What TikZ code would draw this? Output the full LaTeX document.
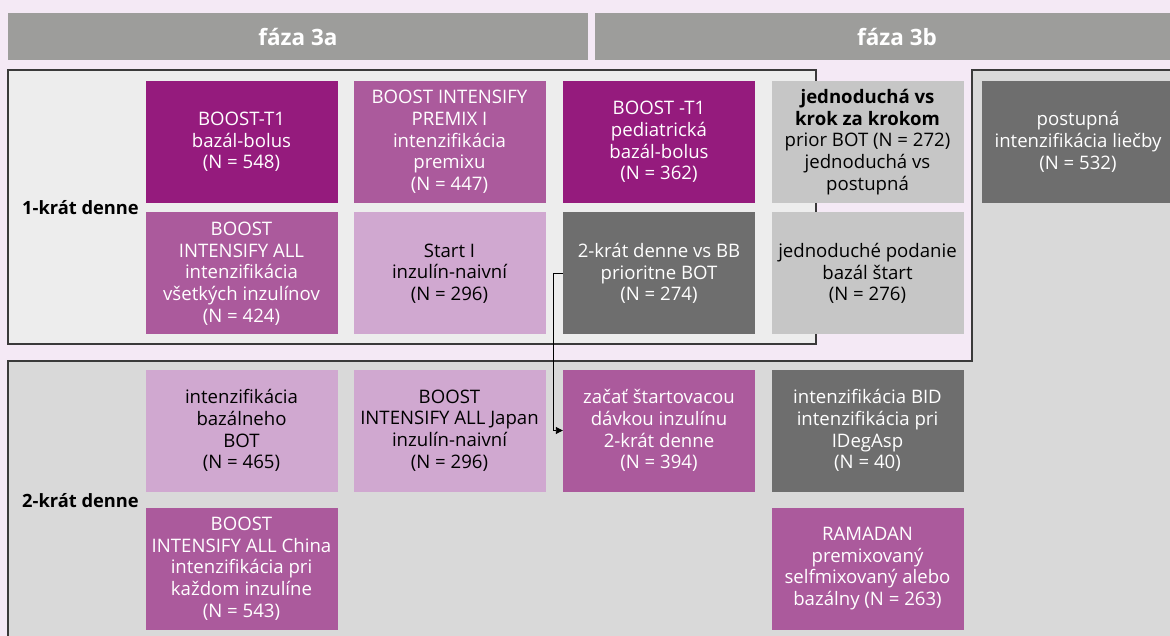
\documentclass[tikz,border=0pt]{standalone}
\usepackage{fontspec}
\setmainfont{Open Sans}
\usepackage{tikz}
\usetikzlibrary{arrows.meta,positioning,calc}
\definecolor{cBg}{HTML}{F4E9F5}
\definecolor{cHead}{HTML}{9D9D9B}
\definecolor{cOnce}{HTML}{EDEDED}
\definecolor{cTwice}{HTML}{D9D9D9}
\definecolor{cFrame}{HTML}{3A3A3A}
\definecolor{cPurD}{HTML}{951B7D}
\definecolor{cPurM}{HTML}{AB5A9C}
\definecolor{cPurL}{HTML}{D0A8D0}
\definecolor{cGreyD}{HTML}{6E6E6E}
\definecolor{cGreyL}{HTML}{C6C6C6}
\tikzset{
  blk/.style={minimum width=192pt, minimum height=122pt, inner sep=2pt,
              align=center, font=\fontsize{18.6}{21.7}\selectfont},
  pdblk/.style={blk, fill=cPurD, text=white},
  pmblk/.style={blk, fill=cPurM, text=white},
  plblk/.style={blk, fill=cPurL, text=black},
  gdblk/.style={blk, fill=cGreyD, text=white},
  glblk/.style={blk, fill=cGreyL, text=black},
  phase/.style={fill=cHead, text=white, minimum height=47pt, inner sep=0pt,
                font=\fontsize{22.5}{26}\selectfont\bfseries},
  rowlbl/.style={font=\fontsize{18.3}{20}\selectfont\bfseries, anchor=east, inner sep=0pt},
  frm/.style={cFrame, line width=1.3pt},
  arr/.style={-{Triangle[length=7pt,width=7pt]}, line width=0.9pt, black}
}

\begin{document}
\begin{tikzpicture}[x=1pt, y=-1pt]
\clip (0,0) rectangle (1170,636);
\fill[cBg] (0,0) rectangle (1170,636);
% phase headers
\node[phase, minimum width=580pt] (p3a) at (298,36.5) {fáza 3a};
\node[phase, minimum width=604pt] (p3b) at (897,36.5) {fáza 3b};
% frames
\fill[cTwice] (8,361) -- (972,361) -- (972,70) -- (1180,70) -- (1180,645) -- (8,645) -- cycle;
\draw[frm] (8,645) -- (8,361) -- (972,361) -- (972,70) -- (1180,70);
\draw[frm, fill=cOnce] (8,70) rectangle (816,344);
\node[rowlbl] (once) at (139,208) {1-krát denne};
\node[rowlbl] (twice) at (139,501) {2-krát denne};
% 1-krat denne, row 1
\node[pdblk] (b11) at (241.5,142) {BOOST-T1\\bazál-bolus\\(N = 548)};
\node[pmblk] (b12) at (449.5,142) {BOOST INTENSIFY\\PREMIX I\\intenzifikácia\\premixu\\(N = 447)};
\node[pdblk] (b13) at (659,142) {BOOST -T1\\pediatrická\\bazál-bolus\\(N = 362)};
\node[glblk] (b14) at (867.5,142) {\textbf{jednoduchá vs}\\\textbf{krok za krokom}\\prior BOT (N = 272)\\jednoduchá vs\\postupná};
\node[gdblk] (b15) at (1078,142) {postupná\\intenzifikácia liečby\\(N = 532)};
% 1-krat denne, row 2
\node[pmblk] (b21) at (241.5,273.5) {BOOST\\INTENSIFY ALL\\intenzifikácia\\všetkých inzulínov\\(N = 424)};
\node[plblk] (b22) at (449.5,273.5) {Start I\\inzulín-naivní\\(N = 296)};
\node[gdblk] (b23) at (659,273.5) {2-krát denne vs BB\\prioritne BOT\\(N = 274)};
\node[glblk] (b24) at (867.5,273.5) {jednoduché podanie\\bazál štart\\(N = 276)};
% 2-krat denne, row 3
\node[plblk] (b31) at (241.5,430.5) {intenzifikácia\\bazálneho\\BOT\\(N = 465)};
\node[plblk] (b32) at (449.5,430.5) {BOOST\\INTENSIFY ALL Japan\\inzulín-naivní\\(N = 296)};
\node[pmblk] (b33) at (659,430.5) {začať štartovacou\\dávkou inzulínu\\2-krát denne\\(N = 394)};
\node[gdblk] (b34) at (867.5,430.5) {intenzifikácia BID\\intenzifikácia pri\\IDegAsp\\(N = 40)};
% 2-krat denne, row 4
\node[pmblk] (b41) at (241.5,568.5) {BOOST\\INTENSIFY ALL China\\intenzifikácia pri\\každom inzulíne\\(N = 543)};
\node[pmblk] (b44) at (867.5,568.5) {RAMADAN\\premixovaný\\selfmixovaný alebo\\bazálny (N = 263)};
% switch from once to twice daily
\draw[arr] (b23.west) -- ++(-9,0) |- (b33.west);
\end{tikzpicture}
\end{document}
